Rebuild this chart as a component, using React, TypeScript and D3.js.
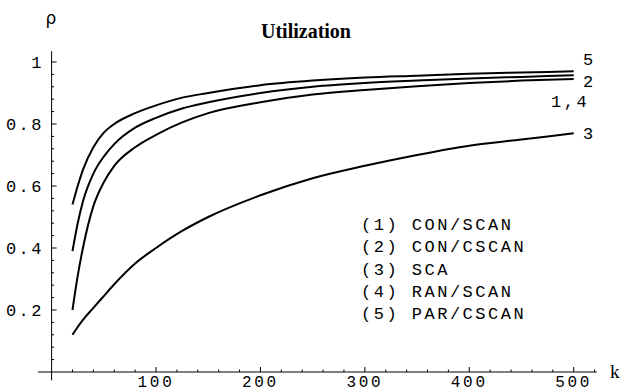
import React from "react";
import * as d3 from "d3";

const kValues = [20, 25, 30, 40, 50, 60, 80, 100, 125, 150, 200, 250, 300, 350, 400, 450, 500];
const curve5 = [0.54, 0.6, 0.652, 0.725, 0.772, 0.8, 0.835, 0.86, 0.885, 0.9, 0.925, 0.94, 0.95, 0.956, 0.962, 0.966, 0.97];
const curve2 = [0.39, 0.48, 0.55, 0.64, 0.695, 0.735, 0.788, 0.82, 0.85, 0.87, 0.9, 0.92, 0.932, 0.94, 0.947, 0.952, 0.957];
const curve14 = [0.2, 0.31, 0.4, 0.535, 0.612, 0.665, 0.725, 0.765, 0.805, 0.835, 0.87, 0.895, 0.91, 0.922, 0.932, 0.94, 0.945];
const curve3 = [0.12, 0.145, 0.168, 0.207, 0.245, 0.283, 0.35, 0.4, 0.455, 0.5, 0.57, 0.625, 0.665, 0.7, 0.73, 0.75, 0.77];

const seriesList = [
  { label: "5", values: curve5 },
  { label: "2", values: curve2 },
  { label: "1,4", values: curve14 },
  { label: "3", values: curve3 },
];

const xTicks = [100, 200, 300, 400, 500];
const yTicks = [0.2, 0.4, 0.6, 0.8, 1];
const yTickLabels = ["0.2", "0.4", "0.6", "0.8", "1"];
const legendItems = ["(1) CON/SCAN", "(2) CON/CSCAN", "(3) SCA", "(4) RAN/SCAN", "(5) PAR/CSCAN"];

const W = 624;
const H = 391;
const mono = "'Liberation Mono', 'Courier New', monospace";

export default function App() {
  const x = d3.scaleLinear().domain([0, 500]).range([51.6, 573.7]);
  const y = d3.scaleLinear().domain([0, 1]).range([372, 62]);
  const xMinor = d3.range(20, 530, 20).filter((v) => v % 100 !== 0);
  const yMinor = d3.range(0.04, 1.04, 0.04).filter((v) => Math.abs(v * 5 - Math.round(v * 5)) > 1e-6);
  const line = d3
    .line<number>()
    .x((_, i) => x(kValues[i]))
    .y((d) => y(d))
    .curve(d3.curveMonotoneX);
  const endLabelY: Record<string, number> = { "5": 65, "2": 87, "1,4": 107, "3": 139 };
  const endLabelX: Record<string, number> = { "5": 583, "2": 583, "1,4": 551, "3": 583 };

  return (
    <svg width={W} height={H} style={{ position: "absolute", left: 0, top: 0, background: "#fff" }}>
      <text x={306} y={38} textAnchor="middle" fontFamily="'Liberation Serif', serif" fontWeight="bold" fontSize={20}>
        Utilization
      </text>
      <text x={51} y={24} textAnchor="middle" fontFamily="'DejaVu Sans', sans-serif" fontSize={17}>
        ρ
      </text>
      {/* axes */}
      <line x1={x(-13)} x2={x(522)} y1={y(0)} y2={y(0)} stroke="#000" strokeWidth={1} />
      <line x1={x(0)} x2={x(0)} y1={y(-0.027)} y2={y(1.035)} stroke="#000" strokeWidth={1} />
      {xTicks.map((t) => (
        <g key={"xt" + t}>
          <line x1={x(t)} x2={x(t)} y1={y(0)} y2={y(0) - 5} stroke="#000" />
          <text x={x(t)} y={387} textAnchor="middle" fontFamily={mono} fontSize={16} letterSpacing={2.7}>
            {t}
          </text>
        </g>
      ))}
      {xMinor.map((t) => (
        <line key={"xm" + t} x1={x(t)} x2={x(t)} y1={y(0)} y2={y(0) - 2.5} stroke="#000" />
      ))}
      {yTicks.map((t, i) => (
        <g key={"yt" + t}>
          <line x1={x(0)} x2={x(0) + 5} y1={y(t)} y2={y(t)} stroke="#000" />
          <text x={44} y={y(t) + 6} textAnchor="end" fontFamily={mono} fontSize={17} letterSpacing={2.5}>
            {yTickLabels[i]}
          </text>
        </g>
      ))}
      {yMinor.map((t) => (
        <line key={"ym" + t} x1={x(0)} x2={x(0) + 2.5} y1={y(t)} y2={y(t)} stroke="#000" />
      ))}
      {seriesList.map((s) => (
        <g key={s.label}>
          <path d={line(s.values) || ""} fill="none" stroke="#000" strokeWidth={2} />
          <text x={endLabelX[s.label]} y={endLabelY[s.label]} fontFamily={mono} fontSize={17} letterSpacing={2.5}>
            {s.label}
          </text>
        </g>
      ))}
      {legendItems.map((t, i) => (
        <text key={t} x={361} y={230 + i * 22.3} fontFamily={mono} fontSize={17} letterSpacing={2.5} style={{ whiteSpace: "pre" }}>
          {t}
        </text>
      ))}
      <text x={610} y={378} fontFamily="'Liberation Serif', serif" fontSize={19}>
        k
      </text>
    </svg>
  );
}
